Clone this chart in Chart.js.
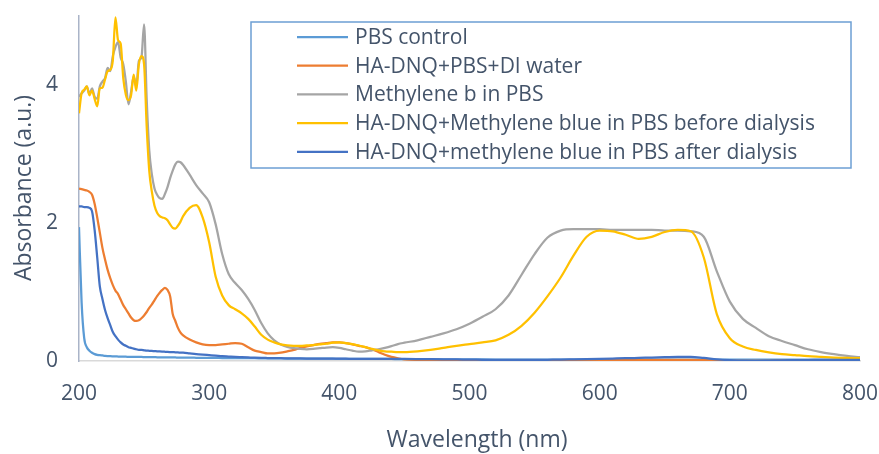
<!DOCTYPE html>
<html>
<head>
<meta charset="utf-8">
<script src="https://cdn.jsdelivr.net/npm/chart.js@4.4.1/dist/chart.umd.min.js"></script>
<style>
  body { margin: 0; background: #fff; }
</style>
</head>
<body>
<canvas id="chart" width="879" height="454"></canvas>
<script>
// wavelengths (nm)
const wavelengths = [
  200, 202, 204, 206, 208, 210, 212, 214, 216, 218, 220, 222, 224, 226, 228, 230, 232, 234, 236, 238,
  240, 242, 244, 246, 248, 250, 252, 254, 256, 258, 260, 262, 264, 266, 268, 270, 272, 274, 276, 278, 280,
  285, 290, 295, 300, 305, 310, 315, 320, 325, 330, 335, 340, 345, 350, 355, 360, 365, 370, 375, 380,
  385, 390, 395, 400, 405, 410, 415, 420, 425, 430, 435, 440, 445, 450,
  460, 470, 480, 490, 500, 510, 520, 530, 540, 550, 560, 570, 580, 590, 600, 610, 620, 630, 640, 650,
  660, 670, 680, 690, 700, 710, 720, 730, 740, 750, 760, 770, 780, 790, 800
];

const pbsControl = [
  1.94, 0.85, 0.33, 0.20, 0.15, 0.12, 0.10, 0.09, 0.085, 0.08, 0.075, 0.072, 0.07, 0.068, 0.066, 0.065, 0.064, 0.063, 0.062, 0.061,
  0.06, 0.06, 0.059, 0.058, 0.058, 0.057, 0.056, 0.056, 0.055, 0.055, 0.054, 0.054, 0.053, 0.053, 0.052, 0.052, 0.051, 0.051, 0.05, 0.05, 0.05,
  0.048, 0.047, 0.046, 0.045, 0.044, 0.043, 0.042, 0.042, 0.041, 0.04, 0.04, 0.039, 0.038, 0.038, 0.037, 0.036, 0.036, 0.035, 0.035, 0.034,
  0.034, 0.033, 0.033, 0.032, 0.032, 0.031, 0.031, 0.03, 0.03, 0.03, 0.029, 0.029, 0.028, 0.028,
  0.027, 0.026, 0.025, 0.024, 0.023, 0.022, 0.021, 0.02, 0.02, 0.02, 0.02, 0.02, 0.02, 0.02, 0.02, 0.02, 0.02, 0.02, 0.02, 0.02,
  0.02, 0.02, 0.02, 0.02, 0.02, 0.02, 0.02, 0.02, 0.02, 0.02, 0.02, 0.02, 0.02, 0.02, 0.02
];

const haDnqPbsWater = [
  2.50, 2.49, 2.48, 2.47, 2.45, 2.41, 2.28, 2.08, 1.86, 1.64, 1.47, 1.32, 1.20, 1.10, 1.02, 0.97, 0.89, 0.81, 0.75, 0.69,
  0.63, 0.59, 0.58, 0.59, 0.62, 0.66, 0.71, 0.77, 0.82, 0.88, 0.94, 0.99, 1.03, 1.06, 1.03, 0.94, 0.68, 0.58, 0.48, 0.41, 0.37,
  0.31, 0.27, 0.24, 0.23, 0.23, 0.24, 0.25, 0.26, 0.25, 0.20, 0.15, 0.13, 0.11, 0.11, 0.12, 0.14, 0.16, 0.19, 0.21, 0.23,
  0.25, 0.26, 0.27, 0.27, 0.26, 0.24, 0.22, 0.20, 0.17, 0.13, 0.09, 0.06, 0.04, 0.025,
  0.015, 0.012, 0.01, 0.01, 0.008, 0.006, 0.005, 0.004, 0.004, 0.005, 0.007, 0.009, 0.011, 0.013, 0.015, 0.016, 0.017, 0.018, 0.018, 0.018,
  0.017, 0.016, 0.012, 0.006, 0.002, 0.001, 0.001, 0.003, 0.006, 0.008, 0.009, 0.01, 0.01, 0.01, 0.01
];

const methyleneBlue = [
  3.83, 3.88, 3.92, 3.98, 3.87, 3.95, 3.83, 3.80, 3.98, 4.05, 4.10, 4.25, 4.20, 4.42, 4.55, 4.62, 4.40, 4.30, 4.05, 3.72,
  3.90, 4.12, 3.98, 4.35, 4.40, 4.88, 3.80, 3.05, 2.70, 2.50, 2.41, 2.36, 2.35, 2.42, 2.52, 2.65, 2.76, 2.85, 2.89, 2.88, 2.84,
  2.70, 2.55, 2.43, 2.30, 1.98, 1.55, 1.26, 1.13, 1.03, 0.90, 0.74, 0.55, 0.40, 0.30, 0.24, 0.205, 0.185, 0.175, 0.17, 0.175,
  0.185, 0.195, 0.20, 0.19, 0.17, 0.15, 0.135, 0.14, 0.155, 0.17, 0.19, 0.215, 0.245, 0.265,
  0.30, 0.35, 0.40, 0.46, 0.54, 0.64, 0.75, 0.95, 1.25, 1.55, 1.79, 1.89, 1.91, 1.91, 1.91, 1.90, 1.90, 1.90, 1.90, 1.89,
  1.89, 1.88, 1.80, 1.30, 0.86, 0.61, 0.48, 0.36, 0.29, 0.23, 0.17, 0.13, 0.10, 0.075, 0.055
];

const beforeDialysis = [
  3.59, 3.88, 3.93, 3.98, 3.85, 3.92, 3.80, 3.69, 3.95, 3.96, 4.08, 4.20, 4.22, 4.36, 4.98, 4.65, 4.60, 4.10, 3.86, 3.78,
  3.85, 4.15, 3.92, 4.30, 4.42, 4.30, 3.40, 2.75, 2.45, 2.25, 2.15, 2.10, 2.08, 2.07, 2.04, 1.98, 1.93, 1.92, 1.96, 2.02, 2.10,
  2.22, 2.26, 2.08, 1.72, 1.22, 0.95, 0.81, 0.75, 0.69, 0.61, 0.50, 0.38, 0.31, 0.27, 0.24, 0.225, 0.22, 0.22, 0.225, 0.23,
  0.24, 0.25, 0.265, 0.27, 0.26, 0.245, 0.225, 0.20, 0.175, 0.155, 0.14, 0.135, 0.13, 0.13,
  0.14, 0.16, 0.19, 0.22, 0.245, 0.27, 0.30, 0.38, 0.51, 0.70, 0.94, 1.21, 1.53, 1.80, 1.89, 1.88, 1.83, 1.77, 1.80, 1.87,
  1.90, 1.88, 1.50, 0.68, 0.33, 0.21, 0.16, 0.125, 0.10, 0.085, 0.07, 0.06, 0.05, 0.045, 0.04
];

const afterDialysis = [
  2.24, 2.24, 2.23, 2.23, 2.22, 2.17, 1.90, 1.50, 1.08, 0.90, 0.74, 0.62, 0.52, 0.42, 0.36, 0.31, 0.27, 0.24, 0.22, 0.20,
  0.19, 0.18, 0.17, 0.16, 0.16, 0.155, 0.15, 0.148, 0.145, 0.143, 0.14, 0.138, 0.136, 0.134, 0.132, 0.13, 0.128, 0.126, 0.124, 0.122, 0.12,
  0.11, 0.10, 0.092, 0.085, 0.078, 0.07, 0.065, 0.06, 0.056, 0.052, 0.048, 0.045, 0.043, 0.041, 0.04, 0.039, 0.038, 0.037, 0.036, 0.035,
  0.035, 0.034, 0.034, 0.033, 0.033, 0.032, 0.032, 0.031, 0.031, 0.03, 0.03, 0.03, 0.029, 0.029,
  0.028, 0.026, 0.024, 0.022, 0.02, 0.018, 0.016, 0.015, 0.015, 0.016, 0.018, 0.02, 0.024, 0.028, 0.032, 0.036, 0.04, 0.045, 0.05, 0.055,
  0.06, 0.06, 0.045, 0.025, 0.012, 0.004, 0.003, 0.006, 0.01, 0.012, 0.014, 0.015, 0.016, 0.017, 0.018
];

const seriesNames = [
  "PBS control",
  "HA-DNQ+PBS+DI water",
  "Methylene b in PBS",
  "HA-DNQ+Methylene blue in PBS before dialysis",
  "HA-DNQ+methylene blue in PBS after dialysis"
];
const seriesValues = [pbsControl, haDnqPbsWater, methyleneBlue, beforeDialysis, afterDialysis];
const seriesColors = ["#5b9bd5", "#ed7d31", "#a5a5a5", "#ffc000", "#4472c4"];
const xTicks = [200, 300, 400, 500, 600, 700, 800];
const yTicks = [0, 2, 4];

const textColor = "#44546a";
const fontFamily = "'Open Sans', sans-serif";

// legend box + axis titles drawn over the plot
const boxLegend = {
  id: "boxLegend",
  afterDraw(chart) {
    const ctx = chart.ctx;
    ctx.save();
    ctx.fillStyle = "#fff";
    ctx.fillRect(251, 22, 600, 146);
    ctx.strokeStyle = "#6c9fd4";
    ctx.lineWidth = 1.5;
    ctx.strokeRect(251, 22, 600, 146);
    ctx.font = "21px " + fontFamily;
    ctx.textBaseline = "middle";
    chart.data.datasets.forEach(function (ds, i) {
      const y = 37 + i * 28.7;
      ctx.strokeStyle = ds.borderColor;
      ctx.lineWidth = 2.25;
      ctx.beginPath();
      ctx.moveTo(297, y);
      ctx.lineTo(348, y);
      ctx.stroke();
      ctx.fillStyle = textColor;
      ctx.fillText(ds.label, 355, y + 1);
    });

    ctx.font = "23px " + fontFamily;
    ctx.textAlign = "center";
    ctx.fillText("Wavelength (nm)", 477, 440);
    ctx.translate(24, 188);
    ctx.rotate(-Math.PI / 2);
    ctx.fillText("Absorbance (a.u.)", 0, 0);
    ctx.restore();
  }
};

const ctx = document.getElementById("chart");
const chart = new Chart(ctx, {
  type: "line",
  data: {
    datasets: seriesNames.map(function (name, i) {
      return {
        label: name,
        data: wavelengths.map(function (w, j) { return { x: w, y: seriesValues[i][j] }; }),
        borderColor: seriesColors[i],
        borderWidth: 2.25,
        pointRadius: 0,
        fill: false,
        cubicInterpolationMode: "monotone",
        order: 5 - i
      };
    })
  },
  options: {
    responsive: false,
    animation: false,
    devicePixelRatio: 1,
    layout: { padding: { top: 16, right: 19, left: 0, bottom: 0 } },
    plugins: {
      legend: { display: false },
      tooltip: { enabled: false }
    },
    scales: {
      x: {
        type: "linear",
        min: 200,
        max: 800,
        afterFit: function (s) { s.height = 93; s.paddingLeft = 0; s.paddingRight = 0; },
        afterBuildTicks: function (s) { s.ticks = xTicks.map(function (v) { return { value: v }; }); },
        grid: { display: false, drawTicks: false },
        border: { display: true, color: "#d9d9d9", width: 1.5 },
        ticks: { padding: 20, color: textColor, font: { family: fontFamily, size: 21 }, maxRotation: 0 }
      },
      y: {
        min: 0,
        max: 5,
        afterFit: function (s) { s.width = 79; s.paddingTop = 0; s.paddingBottom = 0; },
        afterBuildTicks: function (s) { s.ticks = yTicks.map(function (v) { return { value: v }; }); },
        grid: { display: false, drawTicks: false },
        border: { display: true, color: "#aab4c8", width: 1.5 },
        ticks: { padding: 21, color: textColor, font: { family: fontFamily, size: 21 } }
      }
    }
  },
  plugins: [boxLegend]
});
</script>
</body>
</html>
